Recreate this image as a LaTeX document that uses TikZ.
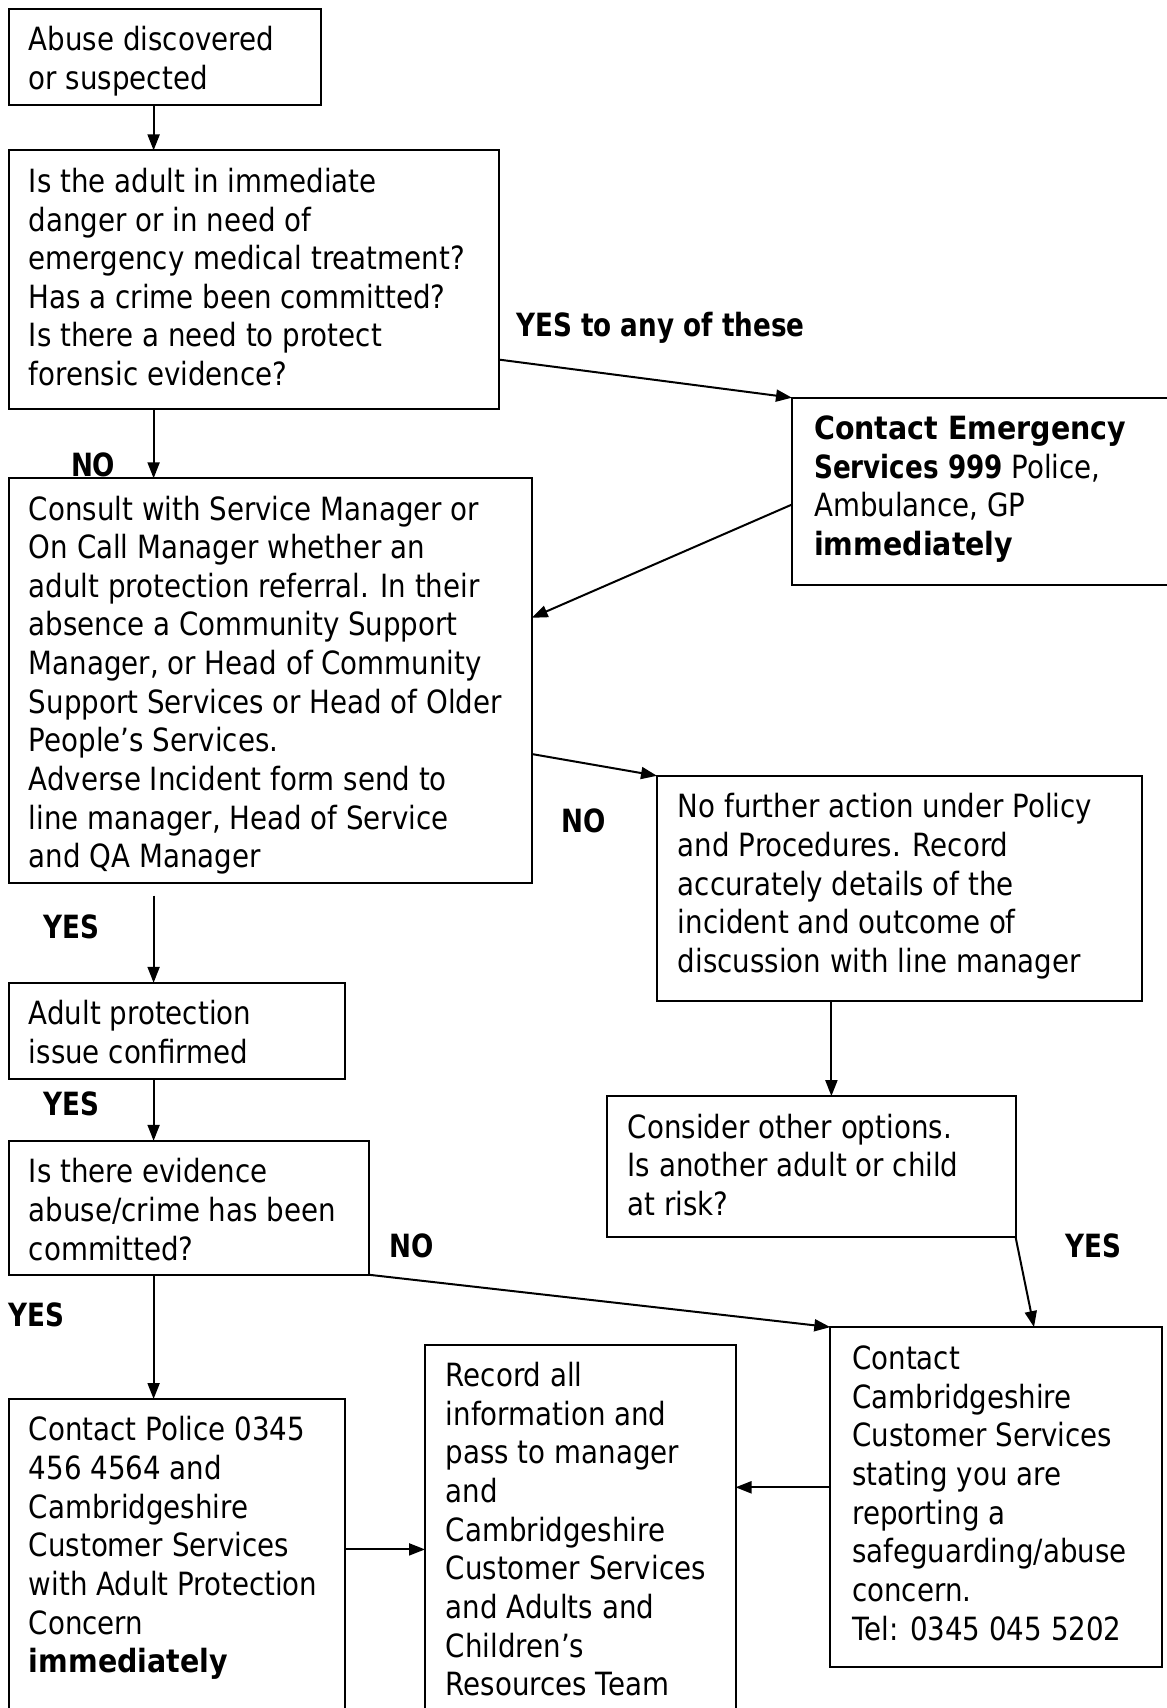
\documentclass[tikz,border=0pt]{standalone}
\usepackage{fontspec}
\setmainfont{DejaVu Sans}[FakeStretch=0.865]
\newfontfamily\boldfam{DejaVu Sans}[FakeStretch=0.82]
\newfontfamily\boldwide{DejaVu Sans}[FakeStretch=0.89]
\usetikzlibrary{arrows.meta}
\newcommand{\bt}[1]{{\boldfam\bfseries #1}}
\newcommand{\btw}[1]{{\boldwide\bfseries #1}}
\begin{document}
\begin{tikzpicture}[x=1pt,y=-1pt,
  box/.style={draw, line width=2pt, rectangle, anchor=north west, inner sep=0pt, outer sep=0pt},
  txt/.style={anchor=base west, inner sep=0pt, align=left, font=\fontsize{32}{38.64}\selectfont},
  lbl/.style={anchor=base west, inner sep=0pt, font=\fontsize{32}{38.64}\selectfont\boldfam\bfseries},
  arr/.style={line width=2pt, -{Triangle[length=16pt,width=12pt]}}]
\useasboundingbox (0,0) rectangle (1167,1708);
\clip (0,0) rectangle (1167,1708);
\fill[white] (0,0) rectangle (1167,1708);

% boxes
\node[box, minimum width=312.7pt, minimum height=95.9pt] (b1) at (8.7,8.7) {};
\node[box, minimum width=490.3pt, minimum height=258.2pt] (b2) at (8.7,150.4) {};
\node[box, minimum width=523pt, minimum height=404.3pt] (b3) at (8.7,478.3) {};
\node[box, minimum width=420pt, minimum height=187.3pt] (em) at (792,397.7) {};
\node[box, minimum width=485pt, minimum height=225.6pt] (nfa) at (657,775.8) {};
\node[box, minimum width=336.7pt, minimum height=95.9pt] (ap) at (8.7,982.8) {};
\node[box, minimum width=360.7pt, minimum height=134pt] (ev) at (8.7,1140.8) {};
\node[box, minimum width=408.6pt, minimum height=140.6pt] (con) at (606.9,1096.1) {};
\node[box, minimum width=331.2pt, minimum height=340pt] (cc) at (830.3,1327.1) {};
\node[box, minimum width=310.5pt, minimum height=420pt] (rec) at (425,1344.6) {};
\node[box, minimum width=336.7pt, minimum height=370pt] (pol) at (8.7,1399) {};

% texts (anchored at the baseline of the last line)
\node[txt] (t1) at (28.7,89.3) {Abuse discovered\\or suspected};
\node[txt] (t2) at (28.7,385.6) {Is the adult in immediate\\danger or in need of\\emergency medical treatment?\\Has a crime been committed?\\Is there a need to protect\\forensic evidence?};
\node[txt] (t3) at (28.7,867.8) {Consult with Service Manager or\\On Call Manager whether an\\adult protection referral. In their\\absence a Community Support\\Manager, or Head of Community\\Support Services or Head of Older\\People’s Services.\\Adverse Incident form send to\\line manager, Head of Service\\and QA Manager};
\node[txt] (tem) at (814,555.6) {\btw{Contact Emergency}\\\bt{Services 999} Police,\\Ambulance, GP\\\btw{immediately}};
\node[txt] (tnfa) at (677.7,972.4) {No further action under Policy\\and Procedures. Record\\accurately details of the\\incident and outcome of\\discussion with line manager};
\node[txt] (tap) at (28.7,1063.4) {Adult protection\\issue confirmed};
\node[txt] (tev) at (28.7,1260.1) {Is there evidence\\abuse/crime has been\\committed?};
\node[txt] (tcon) at (627.6,1215.4) {Consider other options.\\Is another adult or child\\at risk?};
\node[txt] (tcc) at (852,1640) {Contact\\Cambridgeshire\\Customer Services\\stating you are\\reporting a\\safeguarding/abuse\\concern.\\Tel: 0345 045 5202};
\node[txt] (trec) at (445.6,1695.7) {Record all\\information and\\pass to manager\\and\\Cambridgeshire\\Customer Services\\and Adults and\\Children’s\\Resources Team};
\node[txt] (tpol) at (28.7,1672.8) {Contact Police 0345\\456 4564 and\\Cambridgeshire\\Customer Services\\with Adult Protection\\Concern\\\btw{immediately}};

% labels
\node[lbl] (l1) at (516,336) {YES to any of these};
\node[lbl] (l2) at (70.8,476.5) {NO};
\node[lbl] (l3) at (561,832) {NO};
\node[lbl] (l4) at (43.6,938.5) {YES};
\node[lbl] (l5) at (43.6,1115.3) {YES};
\node[lbl] (l6) at (389,1257) {NO};
\node[lbl] (l7) at (1065.6,1257) {YES};
\node[lbl] (l8) at (8.7,1326.7) {YES};

% helper coordinates
\coordinate (colA) at (153.6,0);
\coordinate (colN) at (831.4,0);
\coordinate (colC) at (1034,0);
\coordinate (yA3) at (0,359.6);
\coordinate (yA4a) at (0,504.5);
\coordinate (yA4b) at (0,617.8);
\coordinate (yA5) at (0,754);
\coordinate (yA6) at (0,895.6);
\coordinate (yA12) at (0,1549.4);
\coordinate (yA13) at (0,1487.3);

% connectors
\draw[arr] (b1.south -| colA) -- (b2.north -| colA);
\draw[arr] (b2.south -| colA) -- (b3.north -| colA);
\draw[arr] (b2.east |- yA3) -- (em.north west);
\draw[arr] (em.west |- yA4a) -- (b3.east |- yA4b);
\draw[arr] (b3.east |- yA5) -- (nfa.north west);
\draw[arr] (yA6 -| colA) -- (ap.north -| colA);
\draw[arr] (ap.south -| colA) -- (ev.north -| colA);
\draw[arr] (ev.south -| colA) -- (pol.north -| colA);
\draw[arr] (ev.south east) -- (cc.north west);
\draw[arr] (nfa.south -| colN) -- (con.north -| colN);
\draw[arr] (con.south east) -- (cc.north -| colC);
\draw[arr] (pol.east |- yA12) -- (rec.west |- yA12);
\draw[arr] (cc.west |- yA13) -- (rec.east |- yA13);
\end{tikzpicture}
\end{document}
